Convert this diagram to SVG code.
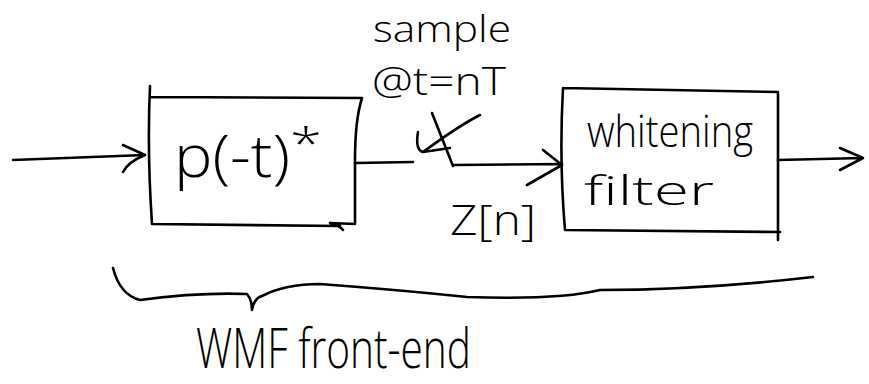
<svg xmlns="http://www.w3.org/2000/svg" width="869" height="384" viewBox="0 0 869 384">
  <style>
    .ink { fill: none; stroke: #000; stroke-width: 2.6; stroke-linecap: round; stroke-linejoin: round; }
    .hand { font-family: "Open Sans", "DejaVu Sans", sans-serif; font-weight: 300; fill: #000; }
  </style>
  <rect width="869" height="384" fill="#fff"/>

  <!-- matched filter block -->
  <g id="matched-filter">
    <path class="ink" d="M150 86 Q147 150 152 224 L340 226 M150 97 L362 98 Q355 120 355 160 L355 224 L330 223 Q340 226 343 230"/>
    <text class="hand" x="174" y="177" font-size="58" textLength="116" lengthAdjust="spacingAndGlyphs">p(-t)</text>
    <text class="hand" x="290" y="160" font-size="44" textLength="32" lengthAdjust="spacingAndGlyphs">*</text>
  </g>

  <!-- sampler switch -->
  <g id="sampler">
    <path class="ink" d="M432 113 L453 166 M480 115 Q460 125 423 152 M423 152 Q415 150 418 132 M423 152 L450 148"/>
    <text class="hand" x="373" y="42" font-size="36" textLength="138" lengthAdjust="spacingAndGlyphs">sample</text>
    <text class="hand" x="372" y="95" font-size="38" textLength="134" lengthAdjust="spacingAndGlyphs">@t=nT</text>
    <text class="hand" x="450" y="235" font-size="42" textLength="86" lengthAdjust="spacingAndGlyphs">Z[n]</text>
  </g>

  <!-- whitening filter block -->
  <g id="whitening-filter">
    <path class="ink" d="M563 88 Q559 160 565 230 L780 232 M563 88 L778 92 L778 240"/>
    <text class="hand" x="587" y="147" font-size="44" textLength="166" lengthAdjust="spacingAndGlyphs">whitening</text>
    <text class="hand" x="584" y="205" font-size="40" textLength="130" lengthAdjust="spacingAndGlyphs">filter</text>
  </g>

  <!-- front-end brace and caption -->
  <g id="front-end">
    <path class="ink" d="M113 268 Q120 295 140 300 Q200 292 247 294 Q252 300 252 310 Q254 298 262 296 Q285 284 320 284 Q400 290 467 297 Q560 300 600 290 Q700 290 813 277"/>
    <text class="hand" x="196" y="368" font-size="56" textLength="275" lengthAdjust="spacingAndGlyphs">WMF front-end</text>
  </g>

  <!-- signal flow lines -->
  <g id="connectors">
    <path class="ink" d="M13 160 L145 155 M123 145 L145 155 Q128 162 123 172"/>
    <path class="ink" d="M355 163 L413 162"/>
    <path class="ink" d="M453 165 L562 164 M543 150 L562 165 M527 185 L562 165"/>
    <path class="ink" d="M778 160 L863 158 M840 148 L863 158 L840 170"/>
  </g>
</svg>
